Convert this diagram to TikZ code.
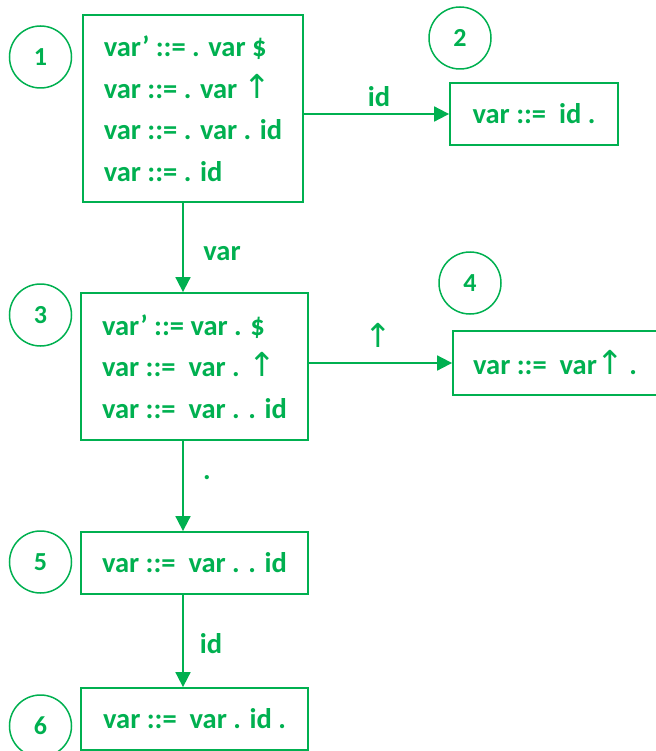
\documentclass[tikz,border=0pt]{standalone}
\usepackage{fontspec}
\setmainfont{Carlito}
\newfontfamily\symfont{DejaVu Sans}
\usetikzlibrary{arrows.meta}
\definecolor{grn}{HTML}{00B050}
\newcommand{\up}{{\fontsize{33}{41.5}\symfont\mdseries\char"2191}}
\begin{document}
\begin{tikzpicture}[x=1pt,y=-1pt,
  every node/.style={text=grn},
  statebox/.style={draw=grn,line width=1.8pt,inner sep=0pt,align=left,
    font=\fontsize{28.5}{41.5}\selectfont\bfseries},
  numcirc/.style={draw=grn,line width=1.5pt,circle,minimum size=62pt,inner sep=0pt,
    font=\fontsize{26}{30}\selectfont\bfseries},
  lbl/.style={font=\fontsize{28.5}{32}\selectfont\bfseries,inner sep=0pt},
  conn/.style={draw=grn,line width=1.8pt,-{Triangle[length=15pt,width=15pt]}}]
\useasboundingbox (0,0) rectangle (655,751);
% boxes
\node[statebox,minimum width=220pt,minimum height=187pt] (b1) at (193,108.5)
  {var’ ::= . var \$\\var ::= . var \up\\var ::= . var . id\\var ::= . id};
\node[statebox,minimum width=168pt,minimum height=62pt] (b2) at (534,114)
  {var ::=~~id .};
\node[statebox,minimum width=227pt,minimum height=147pt] (b3) at (194.5,366.5)
  {var’ ::= var . \$\\var ::=~~var . \up\\var ::=~~var . . id};
\node[statebox,minimum width=204pt,minimum height=64pt] (b4) at (555,363)
  {var ::=~~var\up\,.};
\node[statebox,minimum width=227pt,minimum height=62pt] (b5) at (194.5,563)
  {var ::=~~var . . id};
\node[statebox,minimum width=227pt,minimum height=62pt] (b6) at (194.5,719)
  {var ::=~~var . id .};
% circles
\node[numcirc] (c1) at (40.5,57) {\raisebox{-5pt}{1}};
\node[numcirc] (c2) at (460,38) {\raisebox{-4pt}{2}};
\node[numcirc] (c3) at (40.5,315) {\raisebox{-5pt}{3}};
\node[numcirc] (c4) at (470,283) {\raisebox{-5pt}{4}};
\node[numcirc] (c5) at (40.5,562) {\raisebox{-5pt}{5}};
\node[numcirc] (c6) at (40.5,726) {\raisebox{-5pt}{6}};
% connectors
\coordinate (s12) at (b1.east |- b2.west);
\draw[conn] (s12) -- (b2.west);
\coordinate (s34) at (b3.east |- b4.west);
\draw[conn] (s34) -- (b4.west);
\coordinate (s13) at (183,0);
\draw[conn] (b1.south -| s13) -- (b3.north -| s13);
\draw[conn] (b3.south -| s13) -- (b5.north -| s13);
\draw[conn] (b5.south -| s13) -- (b6.north -| s13);
% labels
\node[lbl] (l12) at (379,97) {id};
\node[lbl] (l34) at (378,335) {\up};
\node[lbl] (l13) at (222,254) {var};
\node[lbl] (l35) at (207,478) {.};
\node[lbl] (l56) at (211,644) {id};
\end{tikzpicture}
\end{document}
